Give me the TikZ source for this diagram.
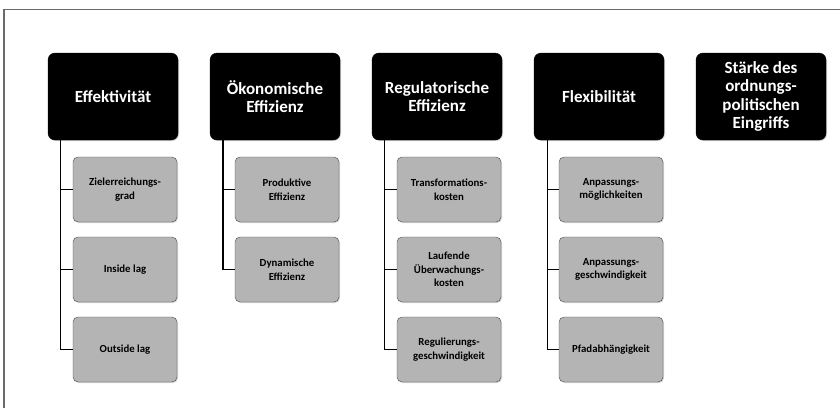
\documentclass[tikz,border=0pt]{standalone}
\usepackage{fontspec}
\setmainfont{Carlito}
\usetikzlibrary{calc,shadows}
\definecolor{subfill}{HTML}{B4B4B4}
\definecolor{subdraw}{HTML}{4A4A4A}
\definecolor{framegray}{HTML}{6A6A6A}
\tikzset{
  topbox/.style={draw=black, fill=black, rounded corners=7pt, minimum width=130pt, minimum height=87pt,
    text=white, font=\fontsize{17}{18.5}\selectfont\bfseries, align=center, inner sep=2pt,
    drop shadow={shadow xshift=1pt, shadow yshift=-1pt, opacity=0.35}},
  subbox/.style={draw=subdraw, fill=subfill, rounded corners=5pt, minimum width=104pt, minimum height=65pt,
    text=black, font=\fontsize{10.8}{13.6}\selectfont\bfseries, align=center, inner sep=2pt,
    drop shadow={shadow xshift=1pt, shadow yshift=-1pt, opacity=0.35}},
  conn/.style={draw=black, line width=1.4pt}
}
\begin{document}
\begin{tikzpicture}[x=1pt,y=-1pt]
\useasboundingbox (0,0) rectangle (840,408);
\draw[framegray, line width=1.2pt] (4,408) -- (4,9.5) -- (840,9.5);

\node[topbox] (t1) at (113,96.5) {Effektivität};
\node[topbox] (t2) at (275,96.5) {Ökonomische\\Effizienz};
\node[topbox] (t3) at (437,96.5) {Regulatorische\\Effizienz};
\node[topbox] (t4) at (599,96.5) {Flexibilität};
\node[topbox] (t5) at (761,96.5) {Stärke des\\ordnungs-\\politischen\\Eingriffs};

\node[subbox] (s11) at (125,189.5) {Zielerreichungs-\\grad};
\node[subbox] (s12) at (125,269.5) {Inside lag};
\node[subbox] (s13) at (125,349.5) {Outside lag};

\node[subbox] (s21) at (287,189.5) {Produktive\\Effizienz};
\node[subbox] (s22) at (287,269.5) {Dynamische\\Effizienz};

\node[subbox] (s31) at (449,189.5) {Transformations-\\kosten};
\node[subbox] (s32) at (449,269.5) {Laufende\\Überwachungs-\\kosten};
\node[subbox] (s33) at (449,349.5) {Regulierungs-\\geschwindigkeit};

\node[subbox] (s41) at (611,189.5) {Anpassungs-\\möglichkeiten};
\node[subbox] (s42) at (611,269.5) {Anpassungs-\\geschwindigkeit};
\node[subbox] (s43) at (611,349.5) {Pfadabhängigkeit};

\coordinate (v1) at ($(t1.south west)+(12.5,0)$);
\coordinate (v2) at ($(t2.south west)+(13,0)$);
\coordinate (v3) at ($(t3.south west)+(12.5,0)$);
\coordinate (v4) at ($(t4.south west)+(13.5,0)$);

\draw[conn] (v1) |- (s13.west);
\draw[conn] (v1 |- s11.west) -- (s11.west);
\draw[conn] (v1 |- s12.west) -- (s12.west);

\draw[conn] (v2) |- (s22.west);
\draw[conn] (v2 |- s21.west) -- (s21.west);

\draw[conn] (v3) |- (s33.west);
\draw[conn] (v3 |- s31.west) -- (s31.west);
\draw[conn] (v3 |- s32.west) -- (s32.west);

\draw[conn] (v4) |- (s43.west);
\draw[conn] (v4 |- s41.west) -- (s41.west);
\draw[conn] (v4 |- s42.west) -- (s42.west);
\end{tikzpicture}
\end{document}
